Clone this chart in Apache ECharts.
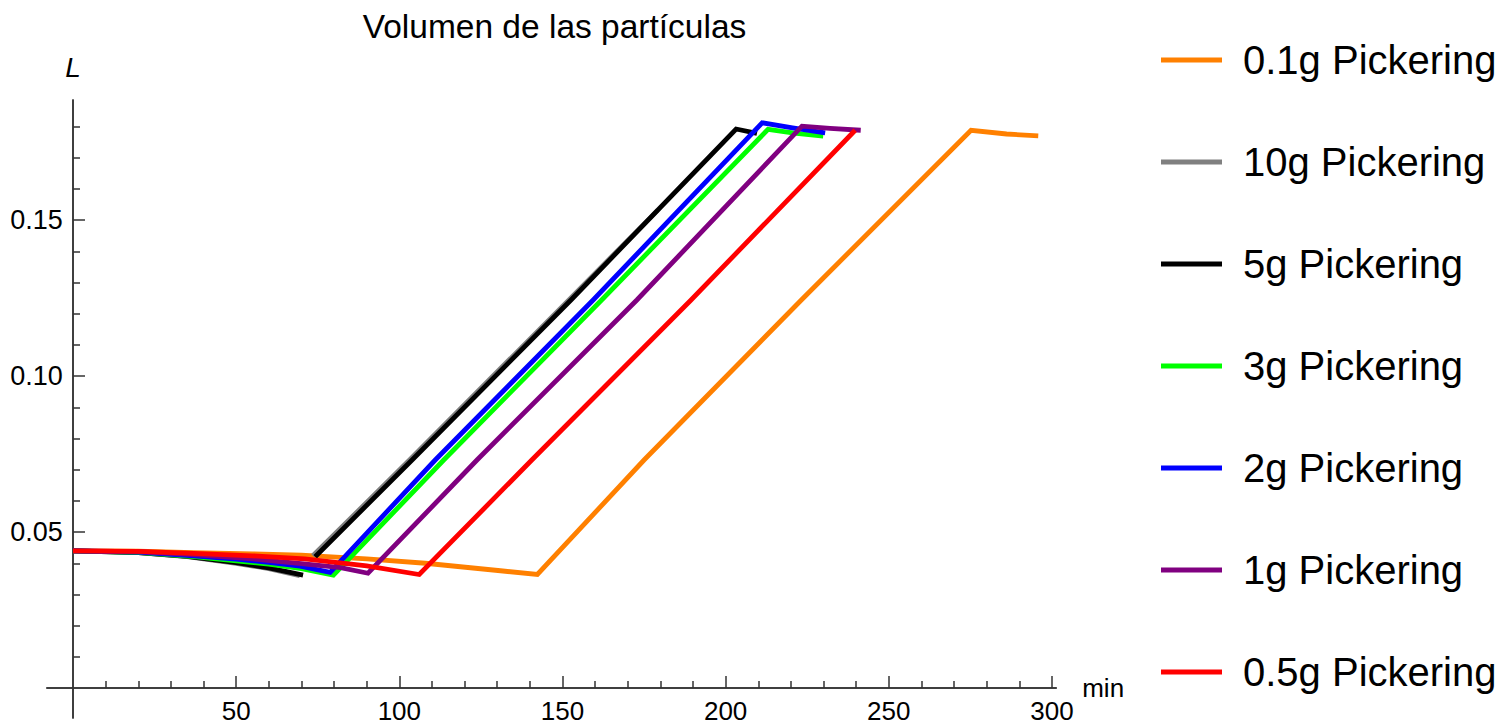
<!DOCTYPE html>
<html>
<head>
<meta charset="utf-8">
<script src="https://cdn.jsdelivr.net/npm/echarts@6/dist/echarts.min.js"></script>
<style>
html,body{margin:0;padding:0;background:#fff;}
#chart{width:1501px;height:725px;}
</style>
</head>
<body>
<div id="chart"></div>
<script>
// ---- data ----
const seriesNames = ['0.1g Pickering','10g Pickering','5g Pickering','3g Pickering','2g Pickering','1g Pickering','0.5g Pickering'];

const t01 = [0,20,37,55,70,90,108,131,142.3,175.0,223.2,275.2,286.1,295.8];
const v01 = [0.0440,0.0439,0.0434,0.0430,0.0426,0.0414,0.0400,0.0376,0.0364,0.0731,0.1244,0.1788,0.1776,0.1770];

const t10 = [0,20,35,50,60,69.5,71.5,73.5,103.5,152.5,179.2];
const v10 = [0.0440,0.0434,0.0421,0.0400,0.0383,0.0360,null,0.0424,0.0735,0.1250,0.1532];

const t5 = [0,20,35,50,60,70.5,72,74.2,103.9,152.6,203.2,209.6];
const v5 = [0.0440,0.0434,0.0422,0.0402,0.0385,0.0362,null,0.0421,0.0731,0.1244,0.1792,0.1778];

const t3 = [0,20,37,50,60,70,79.8,113.6,162,213,221,229.9];
const v3 = [0.0440,0.0435,0.0421,0.0408,0.0397,0.0383,0.0362,0.0731,0.1244,0.1791,0.1779,0.1769];

const t2 = [0,20,37,50,60,69.6,78.8,111.0,159.4,211.2,220.5,230.5];
const v2 = [0.0440,0.0436,0.0424,0.0413,0.0403,0.0391,0.0371,0.0731,0.1244,0.1812,0.1796,0.1780];

const t1 = [0,20,37,55,70,82,90.4,123.8,172.8,223.4,232,241.4];
const v1 = [0.0440,0.0437,0.0428,0.0414,0.0399,0.0386,0.0368,0.0731,0.1244,0.1801,0.1794,0.1788];

const t05 = [0,20,37,55,71,90,106.1,140.6,189.4,239.7];
const v05 = [0.0440,0.0438,0.0432,0.0424,0.0414,0.0392,0.0364,0.0731,0.1244,0.1788];

const xMajorTicks = [50,100,150,200,250,300];
const xMinorTicks = [10,20,30,40,60,70,80,90,110,120,130,140,160,170,180,190,210,220,230,240,260,270,280,290];
const yMajorTicks = [0.05,0.10,0.15];
const yMinorTicks = [0.01,0.02,0.03,0.04,0.06,0.07,0.08,0.09,0.11,0.12,0.13,0.14,0.16,0.17,0.18];

const titleText = 'Volumen de las partículas';
const xName = 'min';
const yName = 'L';

// ---- build ----
const colors = ['#FF8000','#808080','#000000','#00FF00','#0000FF','#800080','#FF0000'];
const tList = [t01,t10,t5,t3,t2,t1,t05];
const vList = [v01,v10,v5,v3,v2,v1,v05];
const FONT = "'Liberation Sans', Arial, Helvetica, sans-serif";
const AX = '#333333';

function pairs(t, v){ return t.map((x,i)=>[x, v[i]===null ? '-' : v[i]]); }

const series = seriesNames.map((n,i)=>({
  name: n, type: 'line', xAxisIndex: 0, yAxisIndex: 0,
  data: pairs(tList[i], vList[i]),
  showSymbol: false, symbol: 'none', connectNulls: false,
  lineStyle: {color: colors[i], width: 4.8, join: 'miter', cap: 'butt'},
  itemStyle: {color: colors[i]},
  animation: false, z: 2 + i
}));

const X_MIN = -8, X_MAX = 301.3, Y_MIN = -0.0096, Y_MAX = 0.1885;

const chart = echarts.init(document.getElementById('chart'), null, {renderer: 'svg'});
chart.setOption({
  animation: false,
  backgroundColor: '#ffffff',
  grid: {left: 46.9, right: 1501 - 1056.2, top: 100, bottom: 7, containLabel: false, outerBoundsMode: 'none'},
  graphic: [{
    type: 'text', x: 554.5, y: 26,
    style: {text: titleText, font: '33.5px ' + FONT, fill: '#000', align: 'center', verticalAlign: 'middle'}
  }],
  legend: {
    orient: 'vertical', left: 1161, top: 40, padding: 0,
    itemWidth: 61, itemHeight: 5, itemGap: 62, icon: 'rect',
    textStyle: {fontFamily: FONT, fontSize: 40, color: '#000', lineHeight: 40, padding: [0,0,0,16]},
    data: seriesNames
  },
  xAxis: [{
    type: 'value', min: X_MIN, max: X_MAX, position: 'bottom',
    name: xName, nameLocation: 'end', nameGap: 26,
    nameTextStyle: {fontFamily: FONT, fontSize: 26, color: '#000', verticalAlign: 'middle'},
    axisLine: {show: true, onZero: true, onZeroAxisIndex: 0, lineStyle: {color: AX, width: 1.5}},
    axisTick: {show: true, inside: true, length: 12, customValues: xMajorTicks, lineStyle: {color: AX, width: 1.5}},
    axisLabel: {show: true, customValues: xMajorTicks, margin: -17.5, lineHeight: 20, fontFamily: FONT, fontSize: 26, color: '#000'},
    splitLine: {show: false}
  },{
    type: 'value', min: X_MIN, max: X_MAX, position: 'bottom',
    axisLine: {show: true, onZero: true, onZeroAxisIndex: 0, lineStyle: {color: AX, width: 1.5}},
    axisTick: {show: true, inside: true, length: 7, customValues: xMinorTicks, lineStyle: {color: AX, width: 1.5}},
    axisLabel: {show: false},
    splitLine: {show: false}
  }],
  yAxis: [{
    type: 'value', min: Y_MIN, max: Y_MAX, position: 'left',
    name: yName, nameLocation: 'end', nameGap: 19,
    nameTextStyle: {fontFamily: FONT, fontSize: 28, fontStyle: 'italic', color: '#000', align: 'center'},
    axisLine: {show: true, onZero: true, onZeroAxisIndex: 0, lineStyle: {color: AX, width: 1.5}},
    axisTick: {show: true, inside: true, length: 12, customValues: yMajorTicks, lineStyle: {color: AX, width: 1.5}},
    axisLabel: {show: true, customValues: yMajorTicks, margin: -16, fontFamily: FONT, fontSize: 27, color: '#000',
      formatter: v => Number(v).toFixed(2)},
    splitLine: {show: false}
  },{
    type: 'value', min: Y_MIN, max: Y_MAX, position: 'left',
    axisLine: {show: true, onZero: true, onZeroAxisIndex: 0, lineStyle: {color: AX, width: 1.5}},
    axisTick: {show: true, inside: true, length: 7, customValues: yMinorTicks, lineStyle: {color: AX, width: 1.5}},
    axisLabel: {show: false},
    splitLine: {show: false}
  }],
  series: series
});
</script>
</body>
</html>
